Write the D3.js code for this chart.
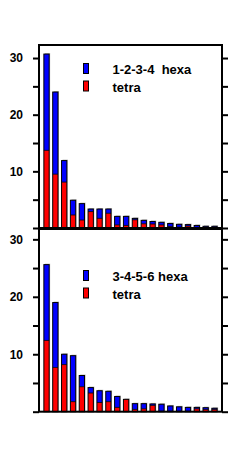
<!DOCTYPE html>
<html lang="en">
<head>
<meta charset="UTF-8">
<title>hexa / tetra</title>
<script src="https://d3js.org/d3.v7.min.js"></script>
<style>
    body { margin: 0; background: #fff; }
    svg { display: block; }
    .axis text { font-family: "Liberation Sans", Arial, sans-serif; font-size: 12px; font-weight: bold; fill: #000; }
    .axis path, .axis line { stroke: #000; stroke-width: 2px; }
    .legend text { font-family: "Liberation Sans", Arial, sans-serif; font-size: 13px; font-weight: bold; fill: #000; }
</style>
</head>
<body>
<svg width="252" height="468"></svg>
<script>
// 20 ranked positions per panel
const ranks = d3.range(1, 21);

// top panel: 1-2-3-4
const hexaTop  = [17.0, 14.5, 3.8, 2.6, 2.9, 0.45, 1.65, 0.75, 1.5, 1.6, 0.25, 0.6, 0.45, 0.45, 0.55, 0.5, 0.25, 0.35, 0.25, 0.25];
const tetraTop = [13.7, 9.5, 8.1, 2.3, 1.4, 2.9, 1.7, 2.6, 0.55, 0.45, 1.45, 0.75, 0.7, 0.55, 0.25, 0.15, 0.35, 0.1, 0.05, 0.05];

// bottom panel: 3-4-5-6
const hexaBot  = [13.2, 11.3, 1.8, 8.0, 1.95, 0.95, 2.05, 1.8, 1.9, 0, 1.0, 0.9, 0.25, 1.2, 0.9, 0.75, 0.65, 0.25, 0.3, 0.2];
const tetraBot = [12.4, 7.7, 8.2, 1.75, 4.35, 3.25, 1.6, 1.75, 0.75, 2.15, 0.4, 0.5, 1.1, 0.1, 0.1, 0.1, 0.1, 0.5, 0.4, 0.4];

const yTicks = [0, 5, 10, 15, 20, 25, 30];
const yLabels = [10, 20, 30];

const colors = { tetra: "#ff0000", hexa: "#0000ff" };

const svg = d3.select("svg");
const left = 39, right = 222;

const x = d3.scaleBand()
    .domain(ranks)
    .range([left, right])
    .paddingInner(0.4)
    .paddingOuter(0.55);

function panel(top, bottom, yMax, hexa, tetra, title, legY) {
    const y = d3.scaleLinear().domain([0, yMax]).range([bottom, top]);
    const g = svg.append("g");

    const rows = ranks.map((r, i) => ({ rank: r, tetra: tetra[i], hexa: hexa[i] }));
    const series = d3.stack().keys(["tetra", "hexa"])(rows);

    // grey shadow behind each bar
    g.selectAll("rect.shadow")
        .data(rows)
        .join("rect")
        .attr("class", "shadow")
        .attr("x", d => x(d.rank) + 1)
        .attr("y", d => y(d.tetra + d.hexa) - 1)
        .attr("width", x.bandwidth())
        .attr("height", d => bottom - y(d.tetra + d.hexa))
        .attr("fill", "#bbb");

    g.selectAll("g.layer")
        .data(series)
        .join("g")
        .attr("fill", d => colors[d.key])
        .selectAll("rect")
        .data(d => d)
        .join("rect")
        .attr("x", d => x(d.data.rank))
        .attr("y", d => y(d[1]))
        .attr("width", x.bandwidth())
        .attr("height", d => y(d[0]) - y(d[1]));

    // black outline of whole bar
    g.selectAll("rect.outline")
        .data(rows)
        .join("rect")
        .attr("class", "outline")
        .attr("x", d => x(d.rank))
        .attr("y", d => y(d.tetra + d.hexa))
        .attr("width", x.bandwidth())
        .attr("height", d => bottom - y(d.tetra + d.hexa))
        .attr("fill", "none")
        .attr("stroke", "#000")
        .attr("stroke-width", 1);

    // divider between tetra and hexa
    g.selectAll("line.split")
        .data(rows.filter(d => d.hexa > 0 && d.tetra > 0))
        .join("line")
        .attr("class", "split")
        .attr("x1", d => x(d.rank))
        .attr("x2", d => x(d.rank) + x.bandwidth())
        .attr("y1", d => y(d.tetra))
        .attr("y2", d => y(d.tetra))
        .attr("stroke", "#000")
        .attr("stroke-width", 0.8);

    // frame
    g.append("rect")
        .attr("x", left).attr("y", top)
        .attr("width", right - left).attr("height", bottom - top)
        .attr("fill", "none").attr("stroke", "#000").attr("stroke-width", 2);

    g.append("g").attr("class", "axis")
        .attr("transform", `translate(${left},0)`)
        .call(d3.axisLeft(y).tickValues(yTicks).tickSize(6).tickPadding(10)
            .tickFormat(d => yLabels.includes(d) ? d : ""))
        .call(a => a.select(".domain").remove());

    g.append("g").attr("class", "axis")
        .attr("transform", `translate(${right},0)`)
        .call(d3.axisRight(y).tickValues(yTicks).tickSize(6).tickFormat(""))
        .call(a => a.select(".domain").remove());

    const leg = g.append("g").attr("class", "legend");
    const items = [{ key: "hexa", label: title }, { key: "tetra", label: "tetra" }];
    items.forEach((it, i) => {
        const yy = legY + i * 17.5;
        leg.append("rect")
            .attr("x", 83.5).attr("y", yy)
            .attr("width", 5).attr("height", 10)
            .attr("fill", colors[it.key])
            .attr("stroke", "#000").attr("stroke-width", 1);
        leg.append("text")
            .attr("x", 112.5).attr("y", yy + 10.5)
            .attr("xml:space", "preserve")
            .style("white-space", "pre")
            .text(it.label);
    });
}

panel(45, 228, 32.3, hexaTop, tetraTop, "1-2-3-4  hexa", 63.5);
panel(229, 411.7, 31.8, hexaBot, tetraBot, "3-4-5-6 hexa", 270.5);
</script>
</body>
</html>
